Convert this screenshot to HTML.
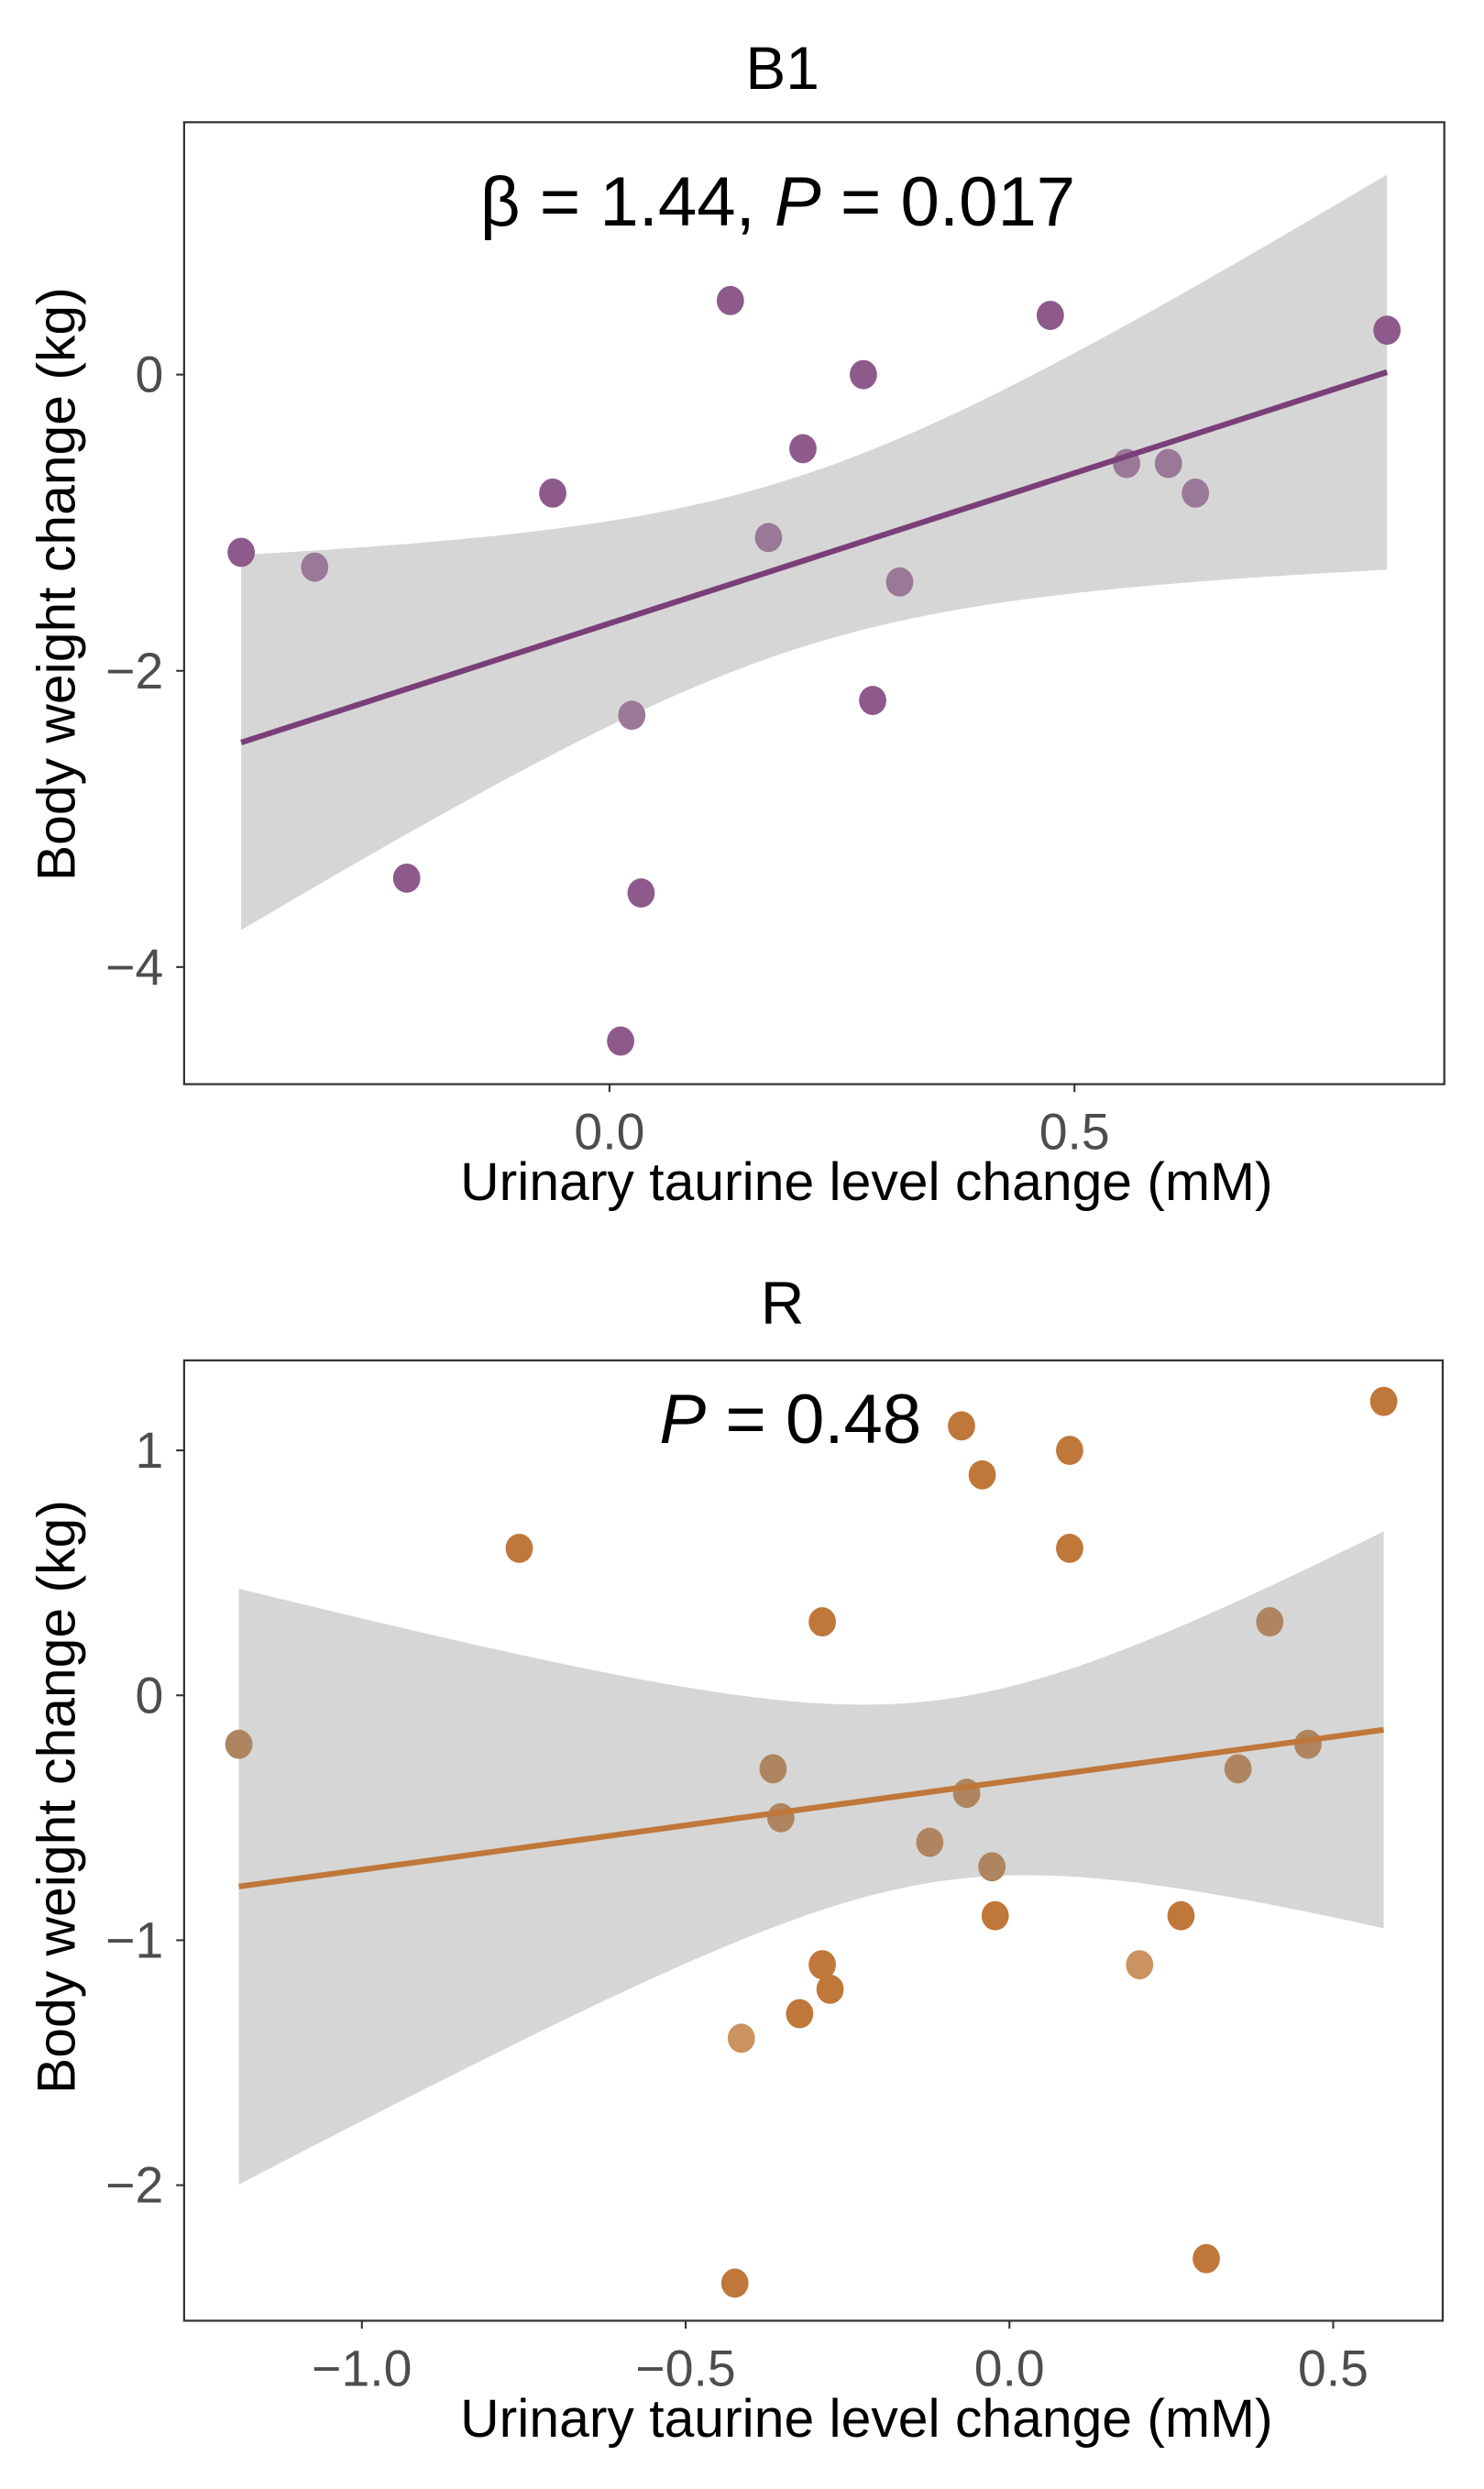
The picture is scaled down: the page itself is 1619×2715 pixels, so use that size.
<!DOCTYPE html>
<html><head><meta charset="utf-8"><style>
html,body{margin:0;padding:0;background:#fff;}
svg{display:block;font-family:"Liberation Sans",Arial,sans-serif;}
</style></head><body>
<svg id="fig" width="1619" height="2715" viewBox="0 0 935 1568" xmlns="http://www.w3.org/2000/svg">
<g id="p1"></g>
<g id="p2"></g>
</svg>
<script>
// Panel B1 data
const b1X = [-0.396,-0.317,-0.218,-0.061,0.012,0.024,0.034,0.130,0.171,0.208,0.273,0.283,0.312,0.474,0.556,0.601,0.630,0.836];
const b1Y = [-1.2,-1.3,-3.4,-0.8,-4.5,-2.3,-3.5,0.5,-1.1,-0.5,0.0,-2.2,-1.4,0.4,-0.6,-0.6,-0.8,0.3];
const b1Shade = [0,1,0,0,0,1,0,0,1,0,0,0,1,0,1,1,1,0];
const b1Fit = [-1.68, 2.03]; // intercept, slope
const b1Band = [0.2, 0.336, 3.57]; // mean x, a, b
const b1XTicks = [0.0, 0.5];
const b1XTickLabels = ["0.0","0.5"];
const b1YTicks = [0,-2,-4];
const b1YTickLabels = ["0","\u22122","\u22124"];
// Panel R data
const rX = [-1.19,-0.757,-0.414,-0.424,-0.365,-0.353,-0.324,-0.289,-0.289,-0.277,-0.123,-0.074,-0.066,-0.042,-0.027,-0.022,0.093,0.093,0.201,0.265,0.304,0.353,0.402,0.461,0.578];
const rY = [-0.2,0.6,-1.4,-2.4,-0.3,-0.5,-1.3,0.3,-1.1,-1.2,-0.6,1.1,-0.4,0.9,-0.7,-0.9,1.0,0.6,-1.1,-0.9,-2.3,-0.3,0.3,-0.2,1.2];
const rShade = [1,0,2,0,1,1,0,0,0,0,1,0,1,0,1,0,0,0,2,0,0,1,1,1,0];
const rFit = [-0.35, 0.362];
const rBand = [-0.1, 0.137, 1.13];
const rXTicks = [-1.0,-0.5,0.0,0.5];
const rXTickLabels = ["\u22121.0","\u22120.5","0.0","0.5"];
const rYTicks = [1,0,-1,-2];
const rYTickLabels = ["1","0","\u22121","\u22122"];

const NS="http://www.w3.org/2000/svg";
function mk(parent,tag,attrs,text){const e=document.createElementNS(NS,tag);for(const k in attrs)e.setAttribute(k,attrs[k]);if(text!==undefined)e.textContent=text;parent.appendChild(e);return e;}

function panel(g,cfg){
  const sx=v=>cfg.x0px+v*cfg.xunit, sy=v=>cfg.y0px-v*cfg.yunit;
  const t=mk(g,'text',{x:493,y:cfg.titleY,'text-anchor':'middle','font-size':38,fill:'#000'},cfg.title);
  
  
  const xs=cfg.X, xmin=Math.min(...xs), xmax=Math.max(...xs);
  let up=[],lo=[];
  for(let i=0;i<=80;i++){const x=xmin+(xmax-xmin)*i/80;const c=cfg.fit[0]+cfg.fit[1]*x;const hw=Math.sqrt(cfg.band[1]+cfg.band[2]*(x-cfg.band[0])**2);up.push(sx(x).toFixed(2)+','+sy(c+hw).toFixed(2));lo.unshift(sx(x).toFixed(2)+','+sy(c-hw).toFixed(2));}
  const band=mk(g,'polygon',{points:up.concat(lo).join(' '),fill:'#d6d6d6'});
  
  
  for(let i=0;i<cfg.X.length;i++){
    const p=mk(g,'ellipse',{cx:sx(cfg.X[i]),cy:sy(cfg.Y[i]),rx:8.6,ry:9.2,fill:cfg.colors[cfg.shade[i]]});
    
    
  }
  const ln=mk(g,'line',{x1:sx(xmin),y1:sy(cfg.fit[0]+cfg.fit[1]*xmin),x2:sx(xmax),y2:sy(cfg.fit[0]+cfg.fit[1]*xmax),stroke:cfg.lineColor,'stroke-width':3.6});
  
  
  const fr=mk(g,'rect',{x:cfg.left,y:cfg.top,width:cfg.right-cfg.left,height:cfg.bottom-cfg.top,fill:'none',stroke:'#333','stroke-width':1.3});
  
  
  cfg.xt.forEach((v,i)=>{
    mk(g,'line',{x1:sx(v),x2:sx(v),y1:cfg.bottom,y2:cfg.bottom+5,stroke:'#333','stroke-width':1.2});
    const l=mk(g,'text',{x:sx(v),y:cfg.bottom+41,'text-anchor':'middle','font-size':32,fill:'#4d4d4d'},cfg.xtl[i]);
    
    
  });
  cfg.yt.forEach((v,i)=>{
    mk(g,'line',{x1:cfg.left-5,x2:cfg.left,y1:sy(v),y2:sy(v),stroke:'#333','stroke-width':1.2});
    const l=mk(g,'text',{x:cfg.left-13,y:sy(v)+11,'text-anchor':'end','font-size':32,fill:'#4d4d4d'},cfg.ytl[i]);
    
    
  });
  const xt=mk(g,'text',{x:546,y:cfg.bottom+73,'text-anchor':'middle','font-size':34,fill:'#000'},'Urinary taurine level change (mM)');
  
  
  const cy=cfg.ytitleY;
  const yt=mk(g,'text',{x:0,y:0,transform:`translate(47,${cy}) rotate(-90)`,'text-anchor':'middle','font-size':34,fill:'#000'},'Body weight change (kg)');
  
  
  const an=mk(g,'text',{x:cfg.annX,y:cfg.annY,'text-anchor':'middle','font-size':44,fill:'#000'});
  
  
  cfg.ann.forEach(s=>{mk(an,'tspan',s.i?{'font-style':'italic'}:{},s.t);});
}
panel(document.getElementById('p1'),{title:'B1',titleY:56,left:116,right:910,top:77,bottom:683,x0px:384,xunit:586,y0px:236,yunit:93.3,
  X:b1X,Y:b1Y,shade:b1Shade,colors:['#8d5a8b','#9a7898'],lineColor:'#7a3f78',fit:b1Fit,band:b1Band,ytitleY:368,
  xt:b1XTicks,xtl:b1XTickLabels,yt:b1YTicks,ytl:b1YTickLabels,annX:490,annY:142,
  ann:[{t:'\u03B2 = 1.44, '},{t:'P',i:1},{t:' = 0.017'}]});
panel(document.getElementById('p2'),{title:'R',titleY:834,left:116,right:909,top:857,bottom:1462,x0px:636,xunit:408,y0px:1068,yunit:154.3,
  X:rX,Y:rY,shade:rShade,colors:['#c0773a','#ae8560','#cb935f'],lineColor:'#c0773a',fit:rFit,band:rBand,ytitleY:1132,
  xt:rXTicks,xtl:rXTickLabels,yt:rYTicks,ytl:rYTickLabels,annX:498,annY:909,
  ann:[{t:'P',i:1},{t:' = 0.48'}]});
</script>
</body></html>
